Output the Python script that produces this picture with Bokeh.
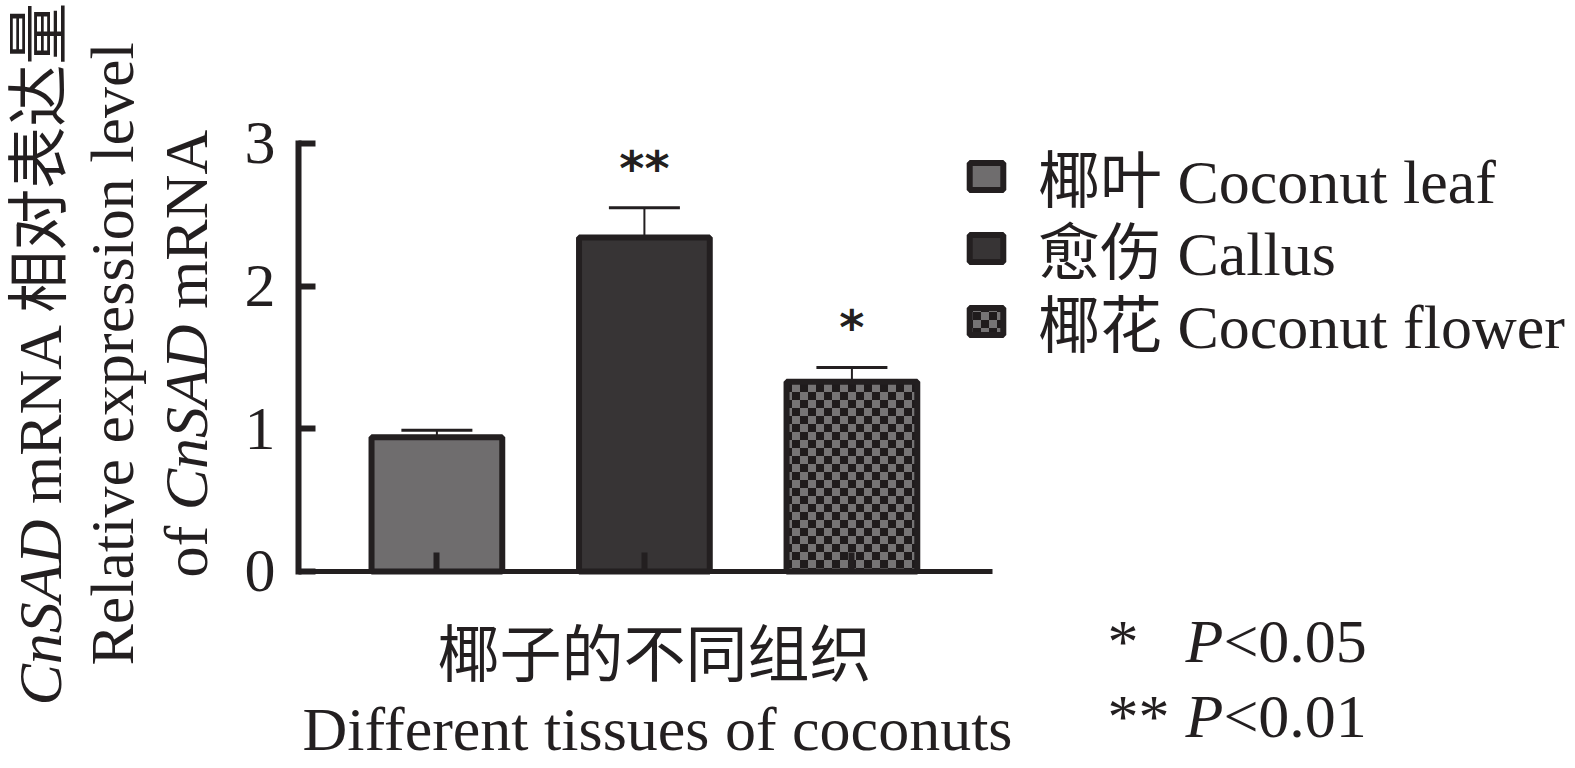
import math
import zlib
import struct
import base64
from bokeh.plotting import figure
from bokeh.models import (ColumnDataSource, Range1d, FixedTicker, Whisker, TeeHead,
                          Label, Legend, LegendItem, ImageURLTexture)
from bokeh.core.properties import value
from bokeh.embed import file_html
from bokeh.resources import INLINE

# ---------------- data ----------------
categories = ["椰叶 Coconut leaf", "愈伤 Callus", "椰花 Coconut flower"]
positions = [1, 2, 3]
values = [0.94, 2.34, 1.33]
errors = [0.05, 0.21, 0.10]
marks = ["", "**", "*"]
y_ticks = [0, 1, 2, 3]
fills = ["#6f6d6e", "#373435", "#747273"]
patterns = ["", "", "checker"]

INK = "#231f20"
SERIF = '"Liberation Serif", "Noto Sans CJK SC"'
FS = "62px"


def checker_png(n=16, cell=8, dark=(0x1f, 0x1b, 0x1c), light=(0x76, 0x74, 0x75)):
    raw = b""
    for yy in range(n):
        row = b"\x00"
        for xx in range(n):
            c = dark if ((xx // cell) + (yy // cell)) % 2 == 0 else light
            row += bytes(c)
        raw += row

    def chunk(tag, data):
        return (struct.pack(">I", len(data)) + tag + data +
                struct.pack(">I", zlib.crc32(tag + data) & 0xffffffff))

    png = (b"\x89PNG\r\n\x1a\n" +
           chunk(b"IHDR", struct.pack(">IIBBBBB", n, n, 8, 2, 0, 0, 0)) +
           chunk(b"IDAT", zlib.compress(raw)) +
           chunk(b"IEND", b""))
    return "data:image/png;base64," + base64.b64encode(png).decode()


checker = ImageURLTexture(url=checker_png())

p = figure(width=1575, height=768,
           x_range=Range1d(-1.103, 6.487), y_range=Range1d(-1.381, 4.002),
           output_backend="svg", toolbar_location=None,
           min_border=0, min_border_left=0, min_border_right=0,
           min_border_top=0, min_border_bottom=0,
           background_fill_color="white", border_fill_color="white")
p.outline_line_color = None
p.grid.visible = False

items = []
for i in range(len(categories)):
    src = ColumnDataSource(dict(x=[positions[i]], top=[values[i]],
                                upper=[values[i] + errors[i]]))
    kw = {}
    if patterns[i] == "checker":
        kw = dict(hatch_pattern=value("checker"), hatch_extra={"checker": checker},
                  hatch_color="#1f1b1c", hatch_scale=16)
    r = p.vbar(x="x", top="top", bottom=0, width=0.63, source=src,
               fill_color=fills[i], line_color=INK, line_width=6, **kw)
    items.append(LegendItem(label=categories[i], renderers=[r]))
    p.add_layout(Whisker(source=src, base="x", lower="top", upper="upper",
                         dimension="height", line_color=INK, line_width=2,
                         upper_head=TeeHead(size=71, line_color=INK, line_width=3),
                         lower_head=None))

sig_x = [positions[i] for i in range(len(marks)) if marks[i]]
sig_y = [values[i] + errors[i] for i in range(len(marks)) if marks[i]]
sig_t = [m for m in marks if m]
p.text(x="x", y="y", text="t", source=ColumnDataSource(dict(x=sig_x, y=sig_y, t=sig_t)),
       text_font=value("DejaVu Sans"), text_font_style="bold", text_font_size="48px",
       text_align="center", text_baseline="alphabetic", y_offset=-40, text_color=INK)

# ---------------- axes (fixed inside the full-canvas frame) ----------------
yax = p.yaxis[0]
yax.fixed_location = 0.333
yax.bounds = (0, 3)
yax.ticker = FixedTicker(ticks=y_ticks)
yax.axis_line_width = 6
yax.axis_line_color = INK
yax.axis_line_cap = "square"
yax.major_tick_line_width = 6
yax.major_tick_line_color = INK
yax.major_tick_in = 17
yax.major_tick_out = 0
yax.minor_tick_in = 0
yax.minor_tick_out = 0
yax.major_label_standoff = 23
yax.major_label_text_font = "Liberation Serif"
yax.major_label_text_font_size = FS
yax.major_label_text_color = INK

xax = p.xaxis[0]
xax.fixed_location = 0
xax.bounds = (0.333, 3.677)
xax.ticker = FixedTicker(ticks=positions)
xax.axis_line_width = 5
xax.axis_line_color = INK
xax.major_tick_line_width = 6
xax.major_tick_line_color = INK
xax.major_tick_in = 19
xax.major_tick_out = 0
xax.minor_tick_in = 0
xax.minor_tick_out = 0
xax.major_label_overrides = {pos: "" for pos in positions}

# ---------------- legend (one row per legend box) ----------------
row_y = [547, 475, 402]
for it, ly in zip(items, row_y):
    lg = Legend(items=[it], location=(965, ly), orientation="vertical",
                padding=0, margin=0, spacing=0,
                glyph_width=42, glyph_height=34, label_height=90,
                label_standoff=31, label_text_font=SERIF,
                label_text_font_size=FS, label_text_color=INK,
                border_line_color=None, background_fill_alpha=0)
    p.add_layout(lg)

# ---------------- text labels (screen units) ----------------
def lab(text, x, y, angle=0.0, italic=False, align="left", baseline="alphabetic",
        font=SERIF, size=FS):
    p.add_layout(Label(x=x, y=y, x_units="screen", y_units="screen", text=text,
                       angle=angle, text_align=align, text_baseline=baseline,
                       text_font=font, text_font_size=size,
                       text_font_style="italic" if italic else "normal",
                       text_color=INK))

EM = 62.0
SP = 0.25 * EM
W_CNSAD = 3.0 * EM     # italic "CnSAD"
W_OF = 0.833 * EM      # "of"
W_P = 0.611 * EM       # italic "P"
R = math.pi / 2

# y-axis title (three rotated lines)
lab("CnSAD", 39, 63, angle=R, italic=True)
lab("mRNA 相对表达量", 39, 63 + W_CNSAD + SP, angle=R)
lab("Relative expression level", 111, 103, angle=R)
lab("of", 185, 191, angle=R)
lab("CnSAD", 185, 191 + W_OF + SP, angle=R, italic=True)
lab("mRNA", 185, 191 + W_OF + SP + W_CNSAD + SP, angle=R)

# x-axis title
lab("椰子的不同组织", 654, 113, align="center", baseline="middle")
lab("Different tissues of coconuts", 657, 40, align="center")

# significance notes
lab("*", 1107, 128)
lab("P", 1185, 128, italic=True)
lab("<0.05", 1185 + W_P, 128)
lab("**", 1107, 53)
lab("P", 1185, 53, italic=True)
lab("<0.01", 1185 + W_P, 53)

open("out.html", "w").write(file_html(p, INLINE))
